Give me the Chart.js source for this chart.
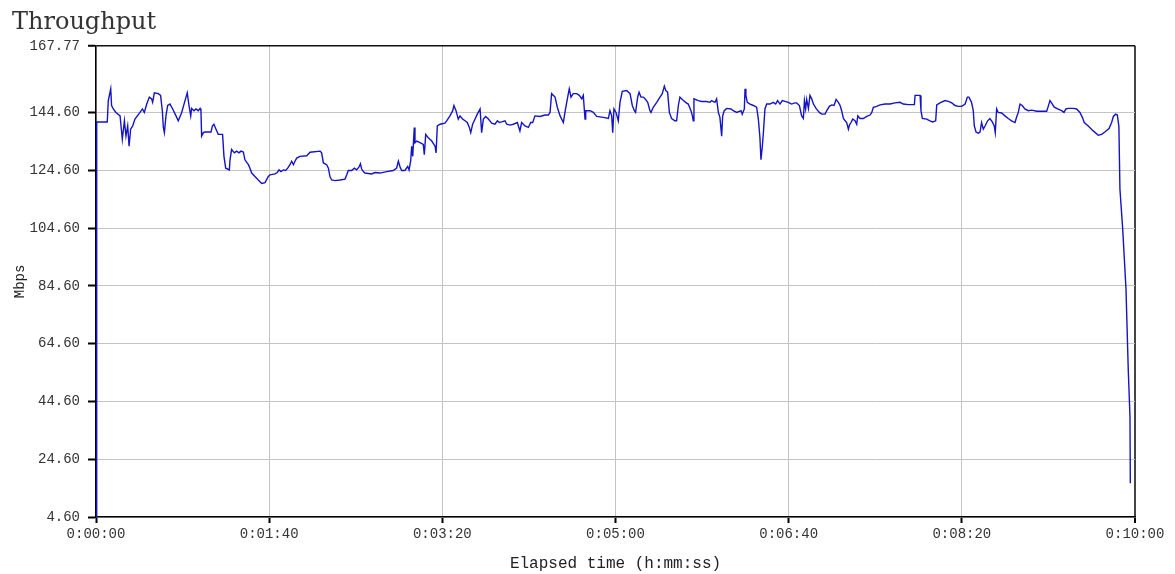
<!DOCTYPE html>
<html>
<head>
<meta charset="utf-8">
<title>Throughput</title>
<script src="https://cdn.jsdelivr.net/npm/chart.js@4"></script>
<style>
  html, body { margin: 0; padding: 0; background: #fff; }
  #wrap { position: relative; width: 1175px; height: 574px; }
</style>
</head>
<body>
<div id="wrap"><canvas id="throughputChart"></canvas></div>
<script>
// Throughput over the test run

const yTickValues = [4.6, 24.6, 44.6, 64.6, 84.6, 104.6, 124.6, 144.6, 167.77];
const xTickSeconds = [0, 100, 200, 300, 400, 500, 600];

// elapsed time in seconds
const elapsedSec = [
  0, 0.4, 6.5, 7.1, 8.5, 9.0, 10.0, 11.5, 13.9, 15.2,
  16.4, 17.3, 18.3, 19.1, 20.0, 21.2, 22.5, 25.4, 26.8, 27.9,
  29.3, 30.8, 32.1, 32.7, 33.7, 36.0, 37.3, 38.3, 38.9, 39.5,
  40.4, 41.4, 42.7, 44.3, 46.2, 47.5, 49.5, 51.4, 52.7, 53.7,
  54.7, 55.2, 56.6, 57.7, 59.1, 60.1, 60.6, 61.0, 62.0, 62.9,
  66.4, 67.2, 68.1, 69.3, 70.6, 73.1, 73.9, 74.9, 77.0, 77.4,
  78.3, 79.9, 81.2, 82.6, 83.7, 85.1, 86.0, 88.0, 88.9, 89.9,
  91.8, 93.7, 95.7, 97.6, 99.5, 100.5,
  103.4, 104.7, 105.7, 106.8, 108.2, 109.5, 110.7, 112.0, 113.0, 114.0,
  114.9, 115.9, 117.8, 121.7, 123.6, 129.4, 130.3, 131.3, 133.2, 134.2,
  135.1, 136.1, 138.0, 140.9, 143.8, 144.8, 145.7, 147.6, 149.2, 150.5,
  151.9, 152.7, 153.4, 154.4, 155.3, 159.2, 161.1, 164.0, 167.9, 171.7,
  173.6, 174.6, 175.6, 176.5, 178.4, 180.0, 180.8, 181.7, 182.3, 182.9,
  183.8, 184.2, 185.2, 187.1, 189.0, 189.6, 190.4, 191.9, 193.9, 195.8,
  196.4, 197.1, 198.7, 201.5,
  202.5, 204.4, 206.0, 206.7, 207.9, 209.2, 210.2, 211.7, 213.1, 214.4,
  215.6, 216.4, 217.5, 218.9, 220.2, 221.8, 222.7, 223.7, 225.0, 226.6,
  228.5, 230.4, 231.8, 232.9, 234.3, 236.2, 237.2, 239.1, 241.0, 243.3,
  244.8, 245.8, 247.7, 249.7, 251.0, 252.2, 253.5, 256.4, 259.3, 261.2,
  262.2, 263.1, 265.1, 266.4, 268.0, 269.9, 270.8, 272.2, 273.3, 274.3,
  275.6, 277.6, 279.1, 280.5, 281.4, 282.4, 282.8, 285.3, 287.2, 289.1,
  293.0, 295.9, 296.8, 297.8, 298.4, 299.1, 300.3, 301.6,
  302.6, 303.9, 306.4, 308.4, 309.7, 310.9, 311.6, 312.8, 313.6, 314.7,
  316.1, 317.4, 318.6, 319.9, 320.5, 321.8, 323.8, 325.7, 327.0, 328.2,
  329.0, 330.1, 331.1, 332.4, 334.3, 335.3, 336.3, 337.2, 339.2, 340.5,
  342.0, 343.6, 344.4, 344.9, 345.3, 347.8, 349.7, 352.6, 354.6, 355.5,
  357.4, 358.4, 359.4, 360.3, 361.3, 361.9, 362.8, 364.2, 366.7, 368.0,
  370.0, 372.5, 373.2, 374.4, 374.8, 375.3, 376.1, 377.7, 379.6, 381.5,
  382.5, 383.4, 384.0, 384.8, 385.4, 386.3, 387.3, 389.2, 391.1, 392.5,
  393.6, 395.0, 396.3, 397.9, 399.8, 401.7, 403.6,
  404.6, 406.2, 407.5, 408.5, 409.1, 409.8, 410.4, 411.4, 412.3, 413.3,
  414.3, 415.8, 417.7, 419.1, 421.0, 422.0, 423.5, 424.9, 426.2, 427.4,
  428.7, 429.7, 430.6, 431.6, 432.6, 433.5, 434.5, 435.1, 436.0, 437.0,
  438.3, 439.3, 439.9, 441.2, 443.1, 445.1, 447.0, 448.0, 448.9, 450.8,
  452.8, 455.7, 458.5, 461.4, 464.3, 466.2, 469.1, 472.6, 473.0, 475.9,
  476.4, 477.2, 479.7, 481.6, 483.2, 484.9, 485.5, 487.4, 490.3, 492.2,
  494.2, 496.1, 498.0, 499.9, 501.9, 503.2,
  504.1, 505.6, 506.6, 507.2, 508.2, 509.5, 510.5, 511.4, 512.4, 513.4,
  514.9, 516.2, 517.6, 518.7, 519.3, 520.1, 521.0, 523.0, 524.9, 526.8,
  528.7, 530.7, 531.6, 532.6, 533.6, 534.9, 536.4, 538.4, 540.3, 543.2,
  546.1, 549.0, 549.9, 550.9, 551.8, 553.4, 555.3, 557.6, 559.0, 560.1,
  561.5, 564.4, 566.3, 568.2, 569.6, 570.7, 573.0, 575.9, 578.8, 580.7,
  582.6, 585.0, 586.5, 587.5, 588.8, 589.8, 590.7, 591.3, 592.9, 594.8,
  596.1, 597.1, 597.3
];

// throughput in Mbps, same order as elapsedSec
const mbps = [
  4.6, 141.4, 141.4, 148.8, 152.9, 147.1, 145.9, 144.7, 143.5, 135.4,
  141.8, 136.5, 140.0, 133.0, 138.9, 140.0, 142.4, 144.7, 145.9, 144.7,
  147.6, 150.0, 149.4, 148.2, 151.5, 151.2, 150.6, 145.3, 139.5, 137.7,
  143.5, 147.1, 147.6, 145.9, 143.5, 141.8, 144.7, 148.8, 151.5, 147.1,
  143.5, 146.1, 145.3, 145.9, 145.3, 146.1, 145.3, 136.5, 137.7, 137.9,
  137.9, 140.0, 140.6, 138.9, 137.1, 137.1, 129.5, 125.4, 124.8, 128.3,
  131.9, 130.7, 131.3, 130.7, 131.3, 131.0, 128.3, 126.6, 125.4, 123.7,
  122.5, 121.3, 120.1, 120.4, 122.5, 123.1,
  123.4, 123.9, 124.8, 124.2, 124.8, 124.6, 125.4, 126.6, 127.8, 126.6,
  127.8, 128.9, 129.5, 129.7, 130.9, 131.3, 130.7, 127.2, 126.6, 125.4,
  122.5, 121.3, 121.1, 121.3, 121.6, 123.1, 124.6, 124.6, 125.4, 124.8,
  125.8, 126.9, 125.1, 124.2, 123.7, 123.4, 123.9, 123.7, 124.2, 124.6,
  125.4, 127.8, 125.8, 124.6, 124.6, 126.0, 124.8, 127.8, 133.0, 129.5,
  139.5, 134.2, 134.8, 134.2, 133.6, 130.1, 137.1, 135.9, 134.8, 133.0,
  130.7, 140.0, 140.6, 141.0,
  141.8, 143.5, 145.3, 147.1, 145.3, 142.4, 143.5, 142.4, 141.8, 141.2,
  139.5, 137.7, 140.6, 142.4, 144.1, 145.9, 137.7, 142.4, 143.3, 142.4,
  141.0, 140.6, 141.8, 141.2, 141.4, 141.8, 140.6, 140.3, 140.6, 141.2,
  138.3, 141.2, 140.0, 139.5, 141.2, 141.2, 143.5, 143.3, 143.8, 143.8,
  144.7, 151.2, 150.0, 146.5, 143.5, 141.2, 144.7, 149.4, 152.9, 150.0,
  151.2, 151.2, 150.6, 149.4, 150.6, 142.4, 145.3, 145.3, 144.7, 143.3,
  143.0, 142.6, 145.3, 143.5, 137.7, 145.9, 144.7, 141.8,
  148.2, 152.0, 152.3, 151.2, 147.1, 145.3, 144.7, 150.0, 151.7, 150.0,
  150.0, 149.2, 148.2, 145.3, 144.7, 146.5, 148.2, 150.0, 151.2, 153.8,
  152.3, 151.7, 144.7, 142.6, 141.8, 141.8, 147.1, 150.0, 148.8, 148.2,
  147.6, 145.3, 143.5, 141.8, 149.4, 148.8, 148.5, 148.5, 148.2, 148.8,
  148.2, 149.4, 144.7, 143.0, 136.5, 143.5, 145.3, 146.1, 145.9, 145.3,
  144.7, 145.3, 144.1, 145.9, 152.9, 150.6, 148.2, 147.6, 147.1, 146.5,
  142.4, 136.0, 128.3, 133.0, 137.7, 145.9, 147.6, 147.6, 148.2, 147.6,
  148.8, 147.6, 148.8, 148.5, 148.2, 147.6, 148.0,
  148.0, 147.1, 143.5, 142.6, 148.8, 145.9, 149.2, 146.1, 150.6, 149.4,
  147.6, 146.1, 144.7, 144.1, 144.1, 145.3, 146.8, 147.3, 147.1, 149.2,
  148.2, 147.1, 145.3, 142.6, 141.8, 141.2, 138.9, 140.3, 141.2, 142.4,
  141.8, 140.6, 143.5, 142.6, 142.6, 143.3, 143.8, 144.7, 146.5, 146.8,
  147.3, 147.6, 147.6, 148.0, 148.2, 147.6, 147.4, 147.4, 150.6, 150.6,
  145.3, 142.6, 142.4, 141.8, 141.4, 141.8, 147.3, 148.0, 148.8, 148.5,
  148.0, 147.1, 146.8, 146.8, 147.6, 150.0,
  150.0, 148.2, 145.3, 140.0, 137.9, 137.5, 137.9, 141.2, 138.9, 140.0,
  141.8, 142.6, 141.4, 140.0, 137.7, 145.9, 144.7, 144.5, 143.5, 142.6,
  141.8, 141.2, 143.0, 144.7, 147.6, 147.1, 145.9, 145.3, 145.5, 145.1,
  145.1, 145.1, 146.8, 148.8, 148.0, 146.5, 145.9, 145.3, 144.7, 145.9,
  146.1, 146.1, 145.9, 144.7, 143.0, 141.2, 140.0, 138.3, 136.8, 137.1,
  137.9, 139.1, 141.2, 143.3, 144.1, 143.8, 139.8, 118.2, 104.3, 83.5,
  55.7, 39.4, 16.3
];

function hms(sec) {
  const h = Math.floor(sec / 3600);
  const m = Math.floor((sec % 3600) / 60);
  const s = Math.round(sec % 60);
  return h + ':' + String(m).padStart(2, '0') + ':' + String(s).padStart(2, '0');
}

const MONO = "'Liberation Mono', 'DejaVu Sans Mono', monospace";

const points = elapsedSec.map((t, i) => ({ x: t, y: mbps[i] }));

new Chart(document.getElementById('throughputChart'), {
  type: 'line',
  data: {
    datasets: [{
      data: points,
      borderColor: '#1414c4',
      borderWidth: 1.4,
      pointRadius: 0,
      tension: 0,
      fill: false,
    }]
  },
  options: {
    responsive: true,
    maintainAspectRatio: false,
    animation: false,
    events: [],
    layout: { padding: { left: 12, right: 40, top: 0, bottom: 0 } },
    plugins: {
      legend: { display: false },
      tooltip: { enabled: false },
      title: {
        display: true,
        text: 'Throughput',
        align: 'start',
        color: '#333',
        font: { family: "'DejaVu Serif', serif", size: 24, weight: 'normal' },
        padding: { top: 8, bottom: 9 },
      }
    },
    scales: {
      x: {
        type: 'linear',
        min: 0,
        max: 600,
        afterBuildTicks: s => { s.ticks = xTickSeconds.map(v => ({ value: v })); },
        afterFit: s => { s.height = 57; },
        grid: {
          color: c => (c.tick && c.tick.value === 600) ? '#444' : '#c4c4c4',
          lineWidth: c => (c.tick && c.tick.value === 600) ? 2 : 1,
          tickColor: '#000',
          tickLength: 6,
          tickWidth: 2,
        },
        border: { display: true, color: '#000', width: 1.5 },
        ticks: {
          color: '#333',
          padding: 3,
          maxRotation: 0,
          font: { family: MONO, size: 14 },
          callback: v => hms(v),
        },
        title: {
          display: true,
          text: 'Elapsed time (h:mm:ss)',
          color: '#222',
          font: { family: MONO, size: 16 },
          padding: { top: 0, bottom: 1 },
        }
      },
      y: {
        min: 4.6,
        max: 167.77,
        afterBuildTicks: s => { s.ticks = yTickValues.map(v => ({ value: v })); },
        afterFit: s => { s.width = 84; },
        grid: {
          color: c => (c.tick && c.tick.value === 167.77) ? '#111' : '#c4c4c4',
          lineWidth: c => (c.tick && c.tick.value === 167.77) ? 1.5 : 1,
          tickColor: '#000',
          tickLength: 8,
          tickWidth: 2,
        },
        border: { display: true, color: '#000', width: 1.5 },
        ticks: {
          color: '#333',
          padding: 8,
          font: { family: MONO, size: 14 },
          callback: v => v.toFixed(2),
        },
        title: {
          display: true,
          text: 'Mbps',
          color: '#222',
          font: { family: MONO, size: 14 },
          padding: { top: 0, bottom: 0 },
        }
      }
    }
  }
});
</script>
</body>
</html>
